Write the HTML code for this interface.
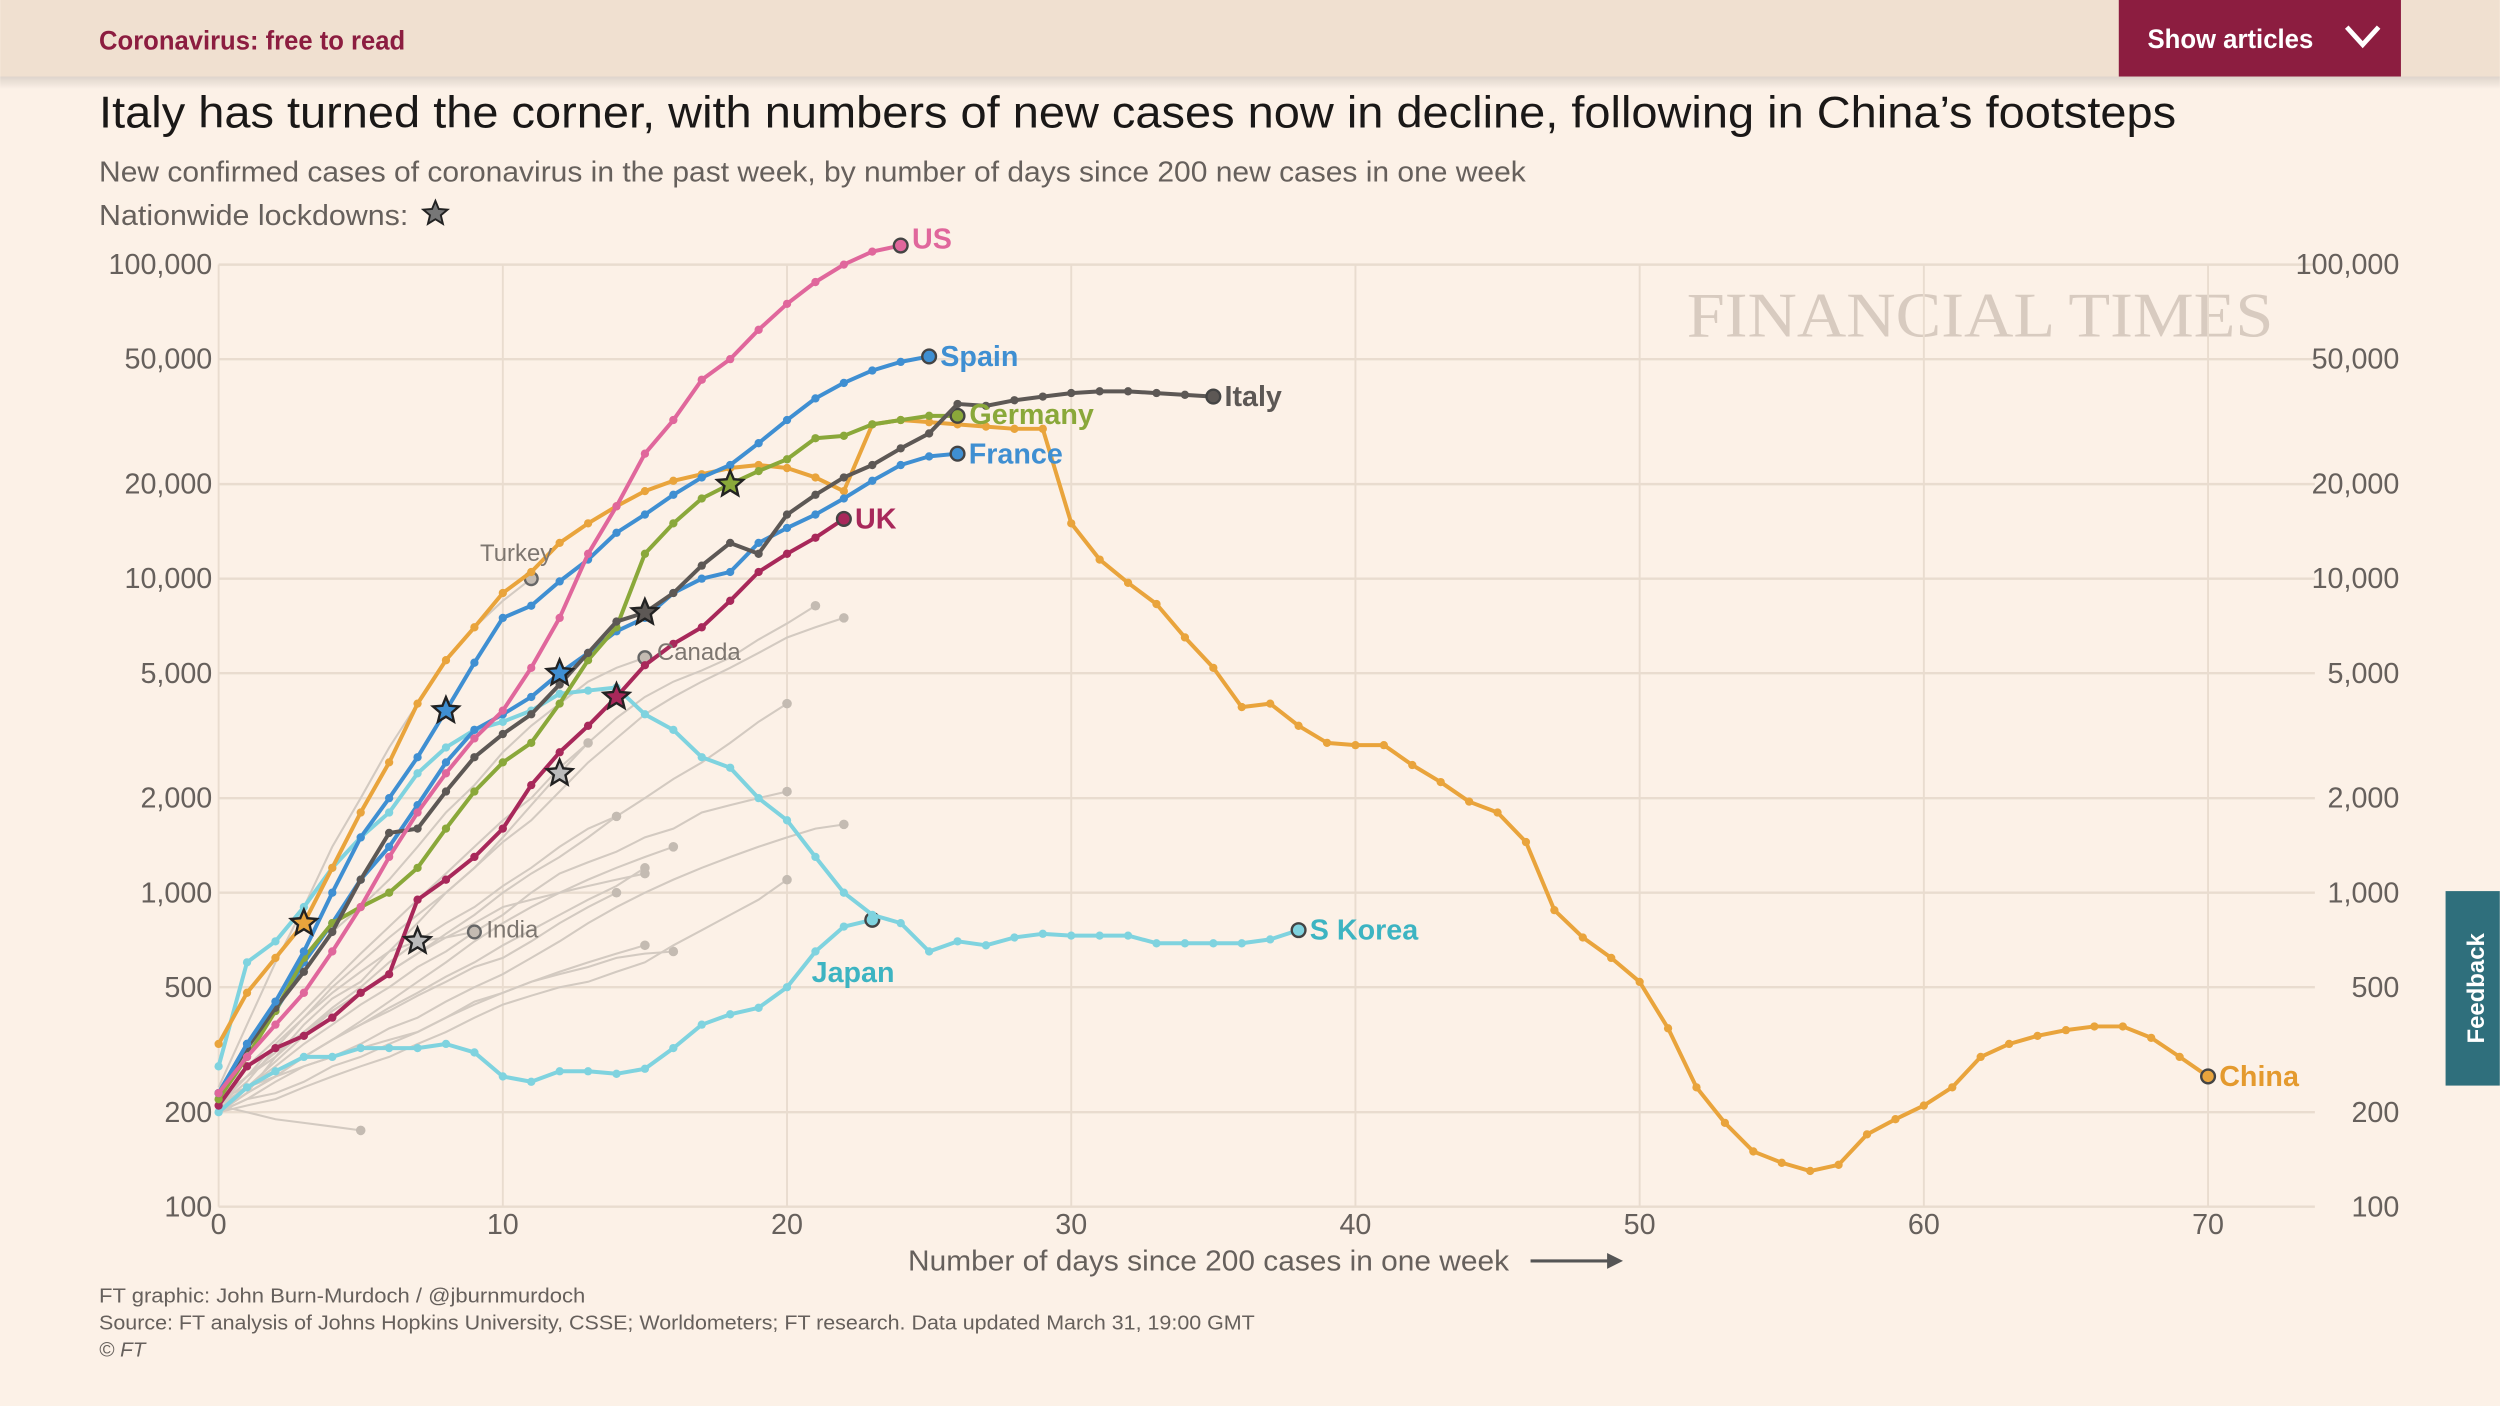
<!DOCTYPE html>
<html><head><meta charset="utf-8">
<style>
html,body{margin:0;padding:0;background:#fcf1e7;}
svg{display:block;font-family:"Liberation Sans",sans-serif;}
</style></head>
<body>
<svg id="chart" width="2500" height="1406" viewBox="0 0 1568 882" xmlns="http://www.w3.org/2000/svg">
<defs><linearGradient id="sh" x1="0" y1="0" x2="0" y2="1"><stop offset="0" stop-color="#000" stop-opacity="0.12"/><stop offset="1" stop-color="#000" stop-opacity="0"/></linearGradient></defs>
<rect width="1568" height="882" fill="#fcf1e7"/>
<rect x="0" y="0" width="1568" height="48" fill="#f0e0d0"/>
<rect x="0" y="48" width="1568" height="8" fill="url(#sh)"/>
<text x="62" y="31" font-size="17" font-weight="bold" fill="#8c1d40" textLength="192" lengthAdjust="spacingAndGlyphs">Coronavirus: free to read</text>
<g>
<rect x="1329" y="0" width="177" height="48" fill="#8c1d40"/>
<text x="1347" y="30" font-size="17" font-weight="bold" fill="#fff" textLength="104" lengthAdjust="spacingAndGlyphs">Show articles</text>
<path d="M1472 17 L1482 28 L1492 17" stroke="#fff" stroke-width="3" fill="none"/>
</g>
<text x="62" y="80" font-size="28" fill="#1a1817" textLength="1303" lengthAdjust="spacingAndGlyphs">Italy has turned the corner, with numbers of new cases now in decline, following in China’s footsteps</text>
<text x="62" y="114" font-size="18" fill="#66605c" textLength="895" lengthAdjust="spacingAndGlyphs">New confirmed cases of coronavirus in the past week, by number of days since 200 new cases in one week</text>
<text x="62" y="141" font-size="18" fill="#66605c" textLength="194" lengthAdjust="spacingAndGlyphs">Nationwide lockdowns:</text>
<polygon points="273.0,126.0 275.1,131.1 280.6,131.5 276.4,135.0 277.7,140.4 273.0,137.5 268.3,140.4 269.6,135.0 265.4,131.5 270.9,131.1" fill="#777" stroke="#222" stroke-width="1.2"/>
<text x="1242" y="211" font-size="40" text-anchor="middle" fill="#d8cbc0" font-family="Liberation Serif, serif" textLength="368" lengthAdjust="spacingAndGlyphs">FINANCIAL TIMES</text>
<g id="grid"></g>
<g id="axes"></g>
<g id="gray"></g>
<g id="series"></g>
<g id="labels"></g>
<text x="758" y="797" font-size="18" fill="#66605c" text-anchor="middle" textLength="377" lengthAdjust="spacingAndGlyphs">Number of days since 200 cases in one week</text>
<g><line x1="960" y1="791" x2="1010" y2="791" stroke="#555" stroke-width="2"/><polygon points="1018,791 1008,786 1008,796" fill="#555"/></g>
<text x="62" y="817" font-size="13" fill="#66605c" textLength="305" lengthAdjust="spacingAndGlyphs">FT graphic: John Burn-Murdoch / @jburnmurdoch</text>
<text x="62" y="834" font-size="13" fill="#66605c" textLength="725" lengthAdjust="spacingAndGlyphs">Source: FT analysis of Johns Hopkins University, CSSE; Worldometers; FT research. Data updated March 31, 19:00 GMT</text>
<text x="62" y="851" font-size="13" fill="#66605c" font-style="italic">© FT</text>
<g><rect x="1534" y="559" width="34" height="122" fill="#2f6f7c"/><text x="1558" y="620" font-size="15" font-weight="bold" fill="#fff" text-anchor="middle" transform="rotate(-90 1558 620)">Feedback</text></g>
</svg>
<script>
const yTicks=[100,200,500,1000,2000,5000,10000,20000,50000,100000];
const yTickLabels=["100","200","500","1,000","2,000","5,000","10,000","20,000","50,000","100,000"];
const xTicks=[0,10,20,30,40,50,60,70];
const china=[330,480,620,800,1200,1800,2600,4000,5500,7000,9000,10500,13000,15000,17000,19000,20500,21500,22500,23000,22500,21000,19000,31000,32000,31500,31000,30500,30000,30000,15000,11500,9700,8300,6500,5200,3900,4000,3400,3000,2950,2950,2550,2250,1950,1800,1450,880,720,620,520,370,240,185,150,138,130,136,170,190,210,240,300,330,350,365,375,375,345,300,260];
const us=[230,300,380,480,650,900,1300,1800,2400,3100,3800,5200,7500,12000,17000,25000,32000,43000,50000,62000,75000,88000,100000,110000,115000];
const spain=[230,330,450,650,1000,1500,2000,2700,3800,5400,7500,8200,9800,11500,14000,16000,18500,21000,23000,27000,32000,37500,42000,46000,49000,51000];
const italy=[230,320,430,560,750,1100,1550,1600,2100,2700,3200,3700,4600,5800,7300,7800,9000,11000,13000,12000,16000,18500,21000,23000,26000,29000,36000,35500,37000,38000,39000,39500,39500,39000,38500,38000];
const germany=[220,300,420,620,800,900,1000,1200,1600,2100,2600,3000,4000,5500,7000,12000,15000,18000,20000,22000,24000,28000,28500,31000,32000,33000,33000];
const france=[230,330,420,600,800,1100,1400,1900,2600,3300,3700,4200,5000,5800,6800,7500,9000,10000,10500,13000,14500,16000,18000,20500,23000,24500,25000];
const uk=[210,280,320,350,400,480,550,950,1100,1300,1600,2200,2800,3400,4200,5300,6200,7000,8500,10500,12000,13500,15500];
const japan=[200,240,270,300,300,320,320,320,330,310,260,250,270,270,265,275,320,380,410,430,500,650,780,820];
const skorea=[280,600,700,900,1200,1500,1800,2400,2900,3300,3500,3800,4300,4400,4500,3700,3300,2700,2500,2000,1700,1300,1000,850,800,650,700,680,720,740,730,730,730,690,690,690,690,710,760];
const turkey=[240,380,600,900,1400,2000,2900,4000,5500,7000,8500,10000];
const canada=[220,300,420,560,750,900,1100,1400,1800,2200,2800,3400,4000,4700,5200,5600];
const india=[210,260,330,400,480,560,650,700,720,750];
const grayA=[200,230,300,380,460,520,650,800,1000,1200,1500,1900,2400,3000,3600,4200,4700,5100,5600,6400,7200,8200];
const grayB=[210,250,320,400,500,600,720,850,1000,1200,1450,1700,2100,2600,3100,3700,4200,4700,5200,5800,6500,7000,7500];
const grayC=[200,240,290,350,420,480,560,640,740,850,1000,1150,1300,1500,1750,2000,2300,2600,3000,3500,4000];
const grayD=[220,260,300,360,430,500,600,700,800,900,1050,1200,1400,1600,1750];
const grayE=[205,240,280,330,380,440,500,580,650,750,850,1000,1150,1250,1350,1500,1600,1800,1900,2000,2100];
const grayF=[200,230,260,300,340,380,430,480,540,600,680,760,850,950,1050,1200];
const grayG=[210,240,270,300,340,380,420,470,520,580,620,700,800,900,1000];
const grayH=[200,220,250,280,300,330,370,400,450,500,550,620,700,800,900,1000,1100,1200,1300,1400,1500,1600,1650];
const grayI=[200,220,230,250,280,300,330,360,400,440,480,520,560,600,640,680];
const grayJ=[220,240,260,280,300,320,340,360,400,450,480,520,550,580,620,640,650];
const grayK=[200,210,220,240,260,280,300,330,360,400,440,470,500,520,560,600,680,760,850,950,1100];
const grayL=[210,200,190,185,180,175];
const grayM=[200,230,260,300,340,390,450,520,600,700,800,900,1000,1100,1200,1300,1400];
const grayN=[220,260,310,360,420,480,560,640,720,800,900,950,1000,1050,1100,1150];
const grayO=[230,280,340,420,520,640,780,950,1150,1400,1700,2000,2500,3000];

const X0=137,XS=(1385-137)/70,Y0=166,DEC=197;
function xs(d){return X0+d*XS;}
function ys(v){return Y0+(5-Math.log10(v))*DEC;}
const NS="http://www.w3.org/2000/svg";
function mk(tag,attrs,parent){const e=document.createElementNS(NS,tag);for(const k in attrs)e.setAttribute(k,attrs[k]);parent.appendChild(e);return e;}
const grid=document.getElementById('grid'),axes=document.getElementById('axes');
yTicks.forEach((v,i)=>{
 const l=mk('line',{x1:137,x2:1452,y1:ys(v),y2:ys(v),stroke:'#e9dccf','stroke-width':1.5},grid);
 
 
 const t=mk('text',{x:133,y:ys(v)+6,'font-size':18,fill:'#66605c','text-anchor':'end'},axes);
 t.textContent=yTickLabels[i];
 
 
 const t2=mk('text',{x:1505,y:ys(v)+6,'font-size':18,fill:'#66605c','text-anchor':'end'},axes);
 t2.textContent=yTickLabels[i];
 
 
});
xTicks.forEach(d=>{
 const l=mk('line',{x1:xs(d),x2:xs(d),y1:166,y2:757,stroke:'#e9dccf','stroke-width':1.2},grid);
 
 
 const t=mk('text',{x:xs(d),y:774,'font-size':18,fill:'#66605c','text-anchor':'middle'},axes);
 t.textContent=d;
 
 
});
function pts(arr){return arr.map((v,i)=>xs(i).toFixed(1)+','+ys(v).toFixed(1)).join(' ');}
const grayG_=document.getElementById('gray');
[grayA,grayB,grayC,grayD,grayE,grayF,grayG,grayH,grayI,grayJ,grayK,grayL,grayM,grayN,grayO,turkey,canada,india].forEach((arr,idx)=>{
 const p=mk('polyline',{points:pts(arr),fill:'none',stroke:'#d3cac1','stroke-width':1.3},grayG_);
 
 
 const n=arr.length-1;
 const c=mk('circle',{cx:xs(n),cy:ys(arr[n]),r:idx>=15?4:3,fill:'#c4bbb2',stroke:idx>=15?'#666':'none','stroke-width':1.5},grayG_);
 
 
});
const S=document.getElementById('series'),L=document.getElementById('labels');
function series(arr,color,name,label,lx,ly,lcol,fs){
 const g=mk('g',{},S);
 
 
 mk('polyline',{points:pts(arr),fill:'none',stroke:color,'stroke-width':2.5,'stroke-linejoin':'round'},g);
 arr.forEach((v,i)=>{if(i<arr.length-1){const c=mk('circle',{cx:xs(i),cy:ys(v),r:2.6,fill:color},g);
  
  }});
 const n=arr.length-1;
 const e=mk('circle',{cx:xs(n),cy:ys(arr[n]),r:4.3,fill:color,stroke:'#444','stroke-width':1.5},g);
 
 
 if(label){const t=mk('text',{x:lx!=null?lx:xs(n)+7,y:ly!=null?ly:ys(arr[n])+6,'font-size':fs||18,'font-weight':'bold',fill:lcol||color},L);
  t.textContent=label;
  
  }
}
series(japan,'#7fd3df','japan','Japan',509,616,'#3db4c2');
series(skorea,'#7fd3df','s-korea','S Korea',null,null,'#3db4c2');
series(china,'#e9a43c','china','China',null,null,'#e49a2e');
series(uk,'#a8285a','uk','UK');
series(france,'#3f8fd2','france','France');
series(germany,'#8aa83a','germany','Germany',608,266);
series(italy,'#5d5855','italy','Italy');
series(spain,'#3f8fd2','spain','Spain');
series(us,'#e0679c','us','US',572,156);
const gt=[['Turkey',301,352],['Canada',412,414],['India',305,588]];
gt.forEach(a=>{const t=mk('text',{x:a[1],y:a[2],'font-size':15,fill:'#7d7670'},L);t.textContent=a[0];
 
 });
const starDays=[[3,china,'#e9a43c'],[8,spain,'#3f8fd2'],[12,france,'#3f8fd2'],[15,italy,'#5d5855'],[18,germany,'#8aa83a'],[14,uk,'#a8285a'],[7,india,'#bbb'],[12,grayA,'#bbb']];
function star(cx,cy,r){let s=[];for(let i=0;i<10;i++){const a=-Math.PI/2+i*Math.PI/5;const rr=i%2?r*0.45:r;s.push((cx+rr*Math.cos(a)).toFixed(1)+','+(cy+rr*Math.sin(a)).toFixed(1));}return s.join(' ');}
starDays.forEach(s=>{const p=mk('polygon',{points:star(xs(s[0]),ys(s[1][s[0]]),8.5),fill:s[2],stroke:'#222','stroke-width':1.5},L);
 
 });
</script>
</body></html>
